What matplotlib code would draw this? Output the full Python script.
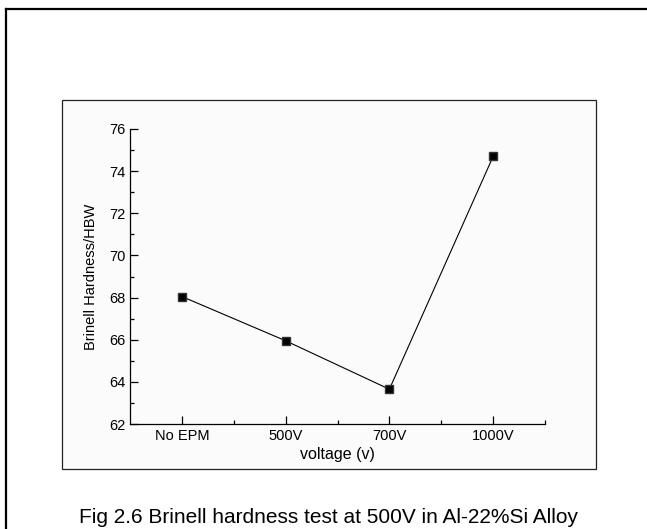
import matplotlib
matplotlib.use("Agg")
import matplotlib.pyplot as plt
from matplotlib.patches import Rectangle
from matplotlib.lines import Line2D

plt.rcParams["font.family"] = ["Liberation Sans", "DejaVu Sans"]

categories = ["No EPM", "500V", "700V", "1000V"]
hardness = [68.05, 65.95, 63.65, 74.7]
caption = "Fig 2.6 Brinell hardness test at 500V in Al-22%Si Alloy"

W, H = 647, 529
fig = plt.figure(figsize=(W / 100, H / 100), dpi=100)

# outer page frame (top and left lines)
fig.add_artist(Line2D([6 / W, 1], [1 - 9 / H, 1 - 9 / H], color="black", lw=1.6))
fig.add_artist(Line2D([6 / W, 6 / W], [0, 1 - 9 / H], color="black", lw=1.6))

# grey panel behind the chart
panel = Rectangle((62 / W, 1 - 469 / H), (596 - 62) / W, (469 - 100) / H,
                  facecolor="#fbfbfb", edgecolor="#222222", lw=0.9, zorder=-5)
fig.add_artist(panel)

ax = fig.add_axes([130 / W, 1 - 424 / H, 415 / W, 295 / H])
ax.set_zorder(2)
ax.patch.set_alpha(0)

x = range(1, len(categories) + 1)
ax.plot(x, hardness, color="black", lw=0.8, marker="s", markersize=5.5,
        markerfacecolor="black", markeredgecolor="#333333")

ax.set_xlim(0.5, 4.5)
ax.set_ylim(62, 76)
ax.set_xticks(list(x))
ax.set_xticklabels(categories)
ax.set_xticks([1.5, 2.5, 3.5, 4.5], minor=True)
ax.set_yticks(range(62, 77, 2))
ax.set_yticks(range(63, 77, 2), minor=True)

ax.spines["top"].set_visible(False)
ax.spines["right"].set_visible(False)
for s in ["left", "bottom"]:
    ax.spines[s].set_linewidth(0.9)

ax.tick_params(which="major", direction="in", length=6, width=0.9, labelsize=10.5)
ax.tick_params(which="minor", direction="in", length=3, width=0.9)

ax.set_xlabel("voltage (v)", fontsize=11.5, labelpad=3)
ax.set_ylabel("Brinell Hardness/HBW", fontsize=10.5, labelpad=8)

fig.text((75 + 582) / 2 / W, 1 - 523 / H, caption, ha="center", va="baseline",
         fontsize=15)

fig.savefig("out.png", dpi=100)
